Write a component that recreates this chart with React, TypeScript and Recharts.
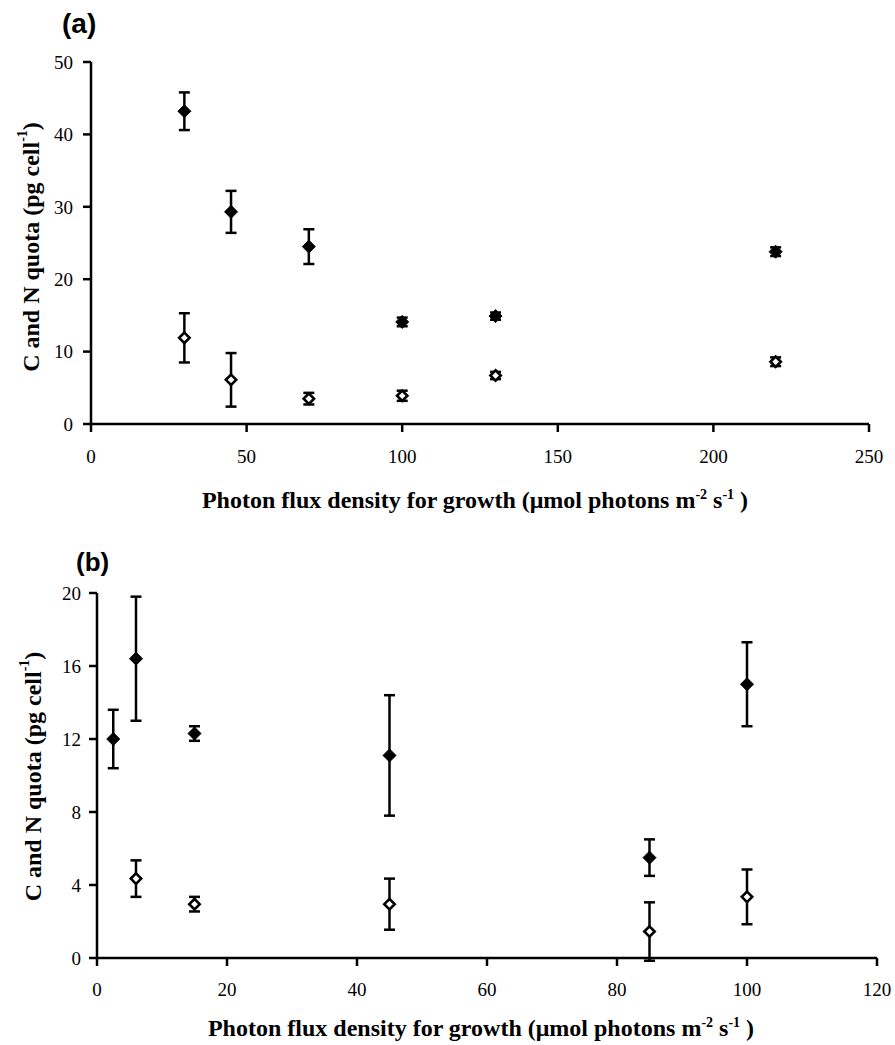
import React from 'react';
import { ScatterChart, Scatter, XAxis, YAxis, ErrorBar, Label } from 'recharts';

// Panel (a)
const aLight = [30, 45, 70, 100, 130, 220];
const aCarbon = [43.2, 29.3, 24.5, 14.1, 14.9, 23.8];
const aCarbonErr = [2.6, 2.9, 2.4, 0.6, 0.5, 0.6];
const aNitrogen = [11.9, 6.1, 3.5, 3.9, 6.7, 8.6];
const aNitrogenErr = [3.4, 3.7, 0.8, 0.7, 0.5, 0.6];
const aXTicks = [0, 50, 100, 150, 200, 250];
const aYTicks = [0, 10, 20, 30, 40, 50];

// Panel (b)
const bLightC = [2.5, 6, 15, 45, 85, 100];
const bCarbon = [12.0, 16.4, 12.3, 11.1, 5.5, 15.0];
const bCarbonErr = [1.6, 3.4, 0.4, 3.3, 1.0, 2.3];
const bLightN = [6, 15, 45, 85, 100];
const bNitrogen = [4.35, 2.95, 2.95, 1.45, 3.35];
const bNitrogenErr = [1.0, 0.4, 1.4, 1.6, 1.5];
const bXTicks = [0, 20, 40, 60, 80, 100, 120];
const bYTicks = [0, 4, 8, 12, 16, 20];

const build = (xs: number[], ys: number[], es: number[]) =>
  xs.map((x, i) => ({ x, y: ys[i], err: es[i] }));

const FONT = 'Liberation Serif';

const FilledDiamond = (props: any) => {
  const { cx, cy } = props;
  const r = 6.5;
  return (
    <path
      d={`M${cx},${cy - r}L${cx + r},${cy}L${cx},${cy + r}L${cx - r},${cy}Z`}
      fill="#000"
      stroke="#000"
      strokeWidth={1}
    />
  );
};

const OpenDiamond = (props: any) => {
  const { cx, cy } = props;
  const r = 5.2;
  return (
    <path
      d={`M${cx},${cy - r}L${cx + r},${cy}L${cx},${cy + r}L${cx - r},${cy}Z`}
      fill="#fff"
      stroke="#000"
      strokeWidth={2.6}
    />
  );
};

const XTitle = (props: any) => {
  const vb = props.viewBox || { x: 0, y: 0, width: 0, height: 0 };
  const cx = vb.x + vb.width / 2 + props.shiftX;
  const y = vb.y + props.baseline;
  return (
    <text
      x={cx}
      y={y}
      textAnchor="middle"
      fontFamily={FONT}
      fontWeight="bold"
      fontSize={24}
      fill="#000"
    >
      Photon flux density for growth (μmol photons m
      <tspan dy={-9} fontSize={14}>-2</tspan>
      <tspan dy={9}> s</tspan>
      <tspan dy={-9} fontSize={14}>-1</tspan>
      <tspan dy={9}> )</tspan>
    </text>
  );
};

const YTitle = (props: any) => {
  const vb = props.viewBox || { x: 0, y: 0, width: 0, height: 0 };
  const cx = props.centerX;
  const cy = vb.y + vb.height / 2 + props.shiftY;
  return (
    <text
      x={cx}
      y={cy}
      transform={`rotate(-90, ${cx}, ${cy})`}
      textAnchor="middle"
      dominantBaseline="central"
      fontFamily={FONT}
      fontWeight="bold"
      fontSize={24}
      fill="#000"
    >
      C and N quota (pg cell
      <tspan dy={-9} fontSize={14}>-1</tspan>
      <tspan dy={9}>)</tspan>
    </text>
  );
};

const tickStyle = { fontSize: 19, fill: '#000', fontFamily: FONT };
const axisLine = { stroke: '#000', strokeWidth: 2.5 };
const tickLine = { stroke: '#000', strokeWidth: 2.5 };

const panelLabel = (text: string, left: number, top: number, size: number) => (
  <div
    style={{
      position: 'absolute',
      left,
      top,
      fontFamily: 'Liberation Sans',
      fontWeight: 'bold',
      fontSize: size,
      lineHeight: 1,
      color: '#000',
    }}
  >
    {text}
  </div>
);

export default function App() {
  const aC = build(aLight, aCarbon, aCarbonErr);
  const aN = build(aLight, aNitrogen, aNitrogenErr);
  const bC = build(bLightC, bCarbon, bCarbonErr);
  const bN = build(bLightN, bNitrogen, bNitrogenErr);

  return (
    <div
      style={{
        position: 'absolute',
        left: 0,
        top: 0,
        width: 895,
        height: 1045,
        background: '#fff',
        overflow: 'hidden',
      }}
    >
      <div style={{ position: 'absolute', left: 0, top: 0 }}>
        <ScatterChart
          width={895}
          height={520}
          margin={{ top: 62, right: 26, bottom: 66, left: 0 }}
        >
          <XAxis
            type="number"
            dataKey="x"
            domain={[0, 250]}
            ticks={aXTicks}
            allowDataOverflow
            axisLine={axisLine}
            tickLine={tickLine}
            tickSize={8}
            tickMargin={18}
            tick={tickStyle}
            height={30}
          >
            <Label content={(p: any) => <XTitle {...p} baseline={84} shiftX={-5} />} />
          </XAxis>
          <YAxis
            type="number"
            dataKey="y"
            domain={[0, 50]}
            ticks={aYTicks}
            allowDataOverflow
            axisLine={axisLine}
            tickLine={tickLine}
            tickSize={8}
            tickMargin={10}
            tick={tickStyle}
            width={91}
          >
            <Label content={(p: any) => <YTitle {...p} centerX={31} shiftY={4} />} />
          </YAxis>
          <Scatter data={aC} shape={FilledDiamond} isAnimationActive={false}>
            <ErrorBar dataKey="err" direction="y" width={5.5} strokeWidth={2.5} stroke="#000" />
          </Scatter>
          <Scatter data={aN} shape={OpenDiamond} isAnimationActive={false}>
            <ErrorBar dataKey="err" direction="y" width={5.5} strokeWidth={2.5} stroke="#000" />
          </Scatter>
        </ScatterChart>
      </div>

      <div style={{ position: 'absolute', left: 0, top: 520 }}>
        <ScatterChart
          width={895}
          height={525}
          margin={{ top: 73, right: 18, bottom: 57, left: 0 }}
        >
          <XAxis
            type="number"
            dataKey="x"
            domain={[0, 120]}
            ticks={bXTicks}
            allowDataOverflow
            axisLine={axisLine}
            tickLine={tickLine}
            tickSize={8}
            tickMargin={17}
            tick={tickStyle}
            height={30}
          >
            <Label content={(p: any) => <XTitle {...p} baseline={78} shiftX={-6} />} />
          </XAxis>
          <YAxis
            type="number"
            dataKey="y"
            domain={[0, 20]}
            ticks={bYTicks}
            allowDataOverflow
            axisLine={axisLine}
            tickLine={tickLine}
            tickSize={8}
            tickMargin={8}
            tick={tickStyle}
            width={97}
          >
            <Label content={(p: any) => <YTitle {...p} centerX={33} shiftY={1} />} />
          </YAxis>
          <Scatter data={bC} shape={FilledDiamond} isAnimationActive={false}>
            <ErrorBar dataKey="err" direction="y" width={5.5} strokeWidth={2.5} stroke="#000" />
          </Scatter>
          <Scatter data={bN} shape={OpenDiamond} isAnimationActive={false}>
            <ErrorBar dataKey="err" direction="y" width={5.5} strokeWidth={2.5} stroke="#000" />
          </Scatter>
        </ScatterChart>
      </div>

      {panelLabel('(a)', 62, 10, 28)}
      {panelLabel('(b)', 76, 549, 26)}
    </div>
  );
}
